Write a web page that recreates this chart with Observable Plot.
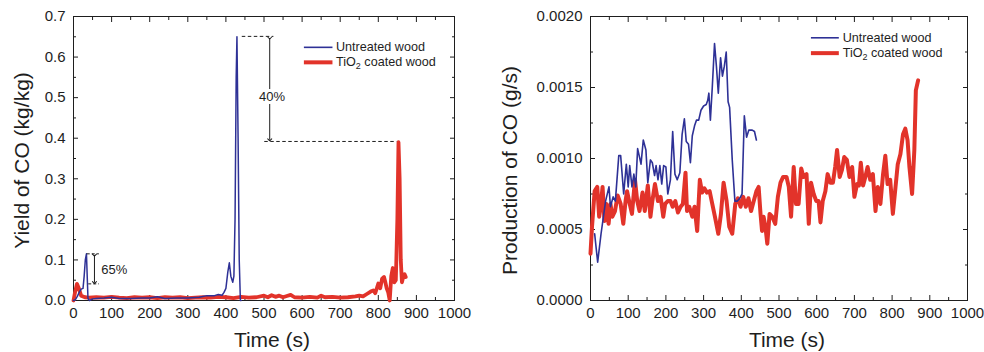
<!DOCTYPE html>
<html><head><meta charset="utf-8">
<script src="https://cdn.jsdelivr.net/npm/d3@7"></script>
<script src="https://cdn.jsdelivr.net/npm/@observablehq/plot@0.6"></script>
<style>
body{margin:0;background:#fff;}
#wrap{display:flex;width:984px;height:352px;font-family:"Liberation Sans",Arial,Helvetica,sans-serif;}
#wrap svg{overflow:visible;}
</style></head><body><div id="wrap"></div>
<script>
// ---------- data ----------
const seriesNames = ["Untreated wood", "TiO2 coated wood"];
const xTicks = [0,100,200,300,400,500,600,700,800,900,1000];
const xMinorTicks = [50,150,250,350,450,550,650,750,850,950];

// Left panel: yield of CO (kg/kg)
const yieldTicks = [0,0.1,0.2,0.3,0.4,0.5,0.6,0.7];
const yieldMinorTicks = [0.05,0.15,0.25,0.35,0.45,0.55,0.65];
const yieldTimeUntreated = [0,5,10,15,20,25,28,31,34,36,38,42,50,60,80,100,120,150,180,200,220,240,270,300,330,350,370,380,390,395,400,405,409,413,418,421,424,427,429,432,435,438,440];
const yieldUntreated = [0,0.002,0.01,0.02,0.028,0.03,0.06,0.1,0.115,0.06,0.005,0,0.004,0.005,0.006,0.008,0.005,0.005,0.006,0.006,0.009,0.005,0.006,0.006,0.008,0.012,0.012,0.015,0.013,0.02,0.03,0.07,0.093,0.06,0.045,0.06,0.2,0.55,0.65,0.4,0.1,0,0];
const yieldTimeCoated = [0,4,9,14,20,30,40,60,80,100,120,140,160,180,200,220,240,260,280,300,320,340,360,380,400,420,440,460,480,500,510,520,530,540,550,560,570,580,600,620,640,650,660,680,700,720,740,750,760,770,780,787,792,800,805,810,815,818,822,826,830,834,838,842,846,850,853,856,859,862,866,869,872];
const yieldCoated = [0,0.02,0.041,0.03,0.012,0.008,0.007,0.008,0.007,0.009,0.007,0.006,0.008,0.007,0.008,0.006,0.008,0.007,0.008,0.006,0.007,0.008,0.007,0.009,0.008,0.006,0.009,0.007,0.008,0.012,0.008,0.013,0.009,0.012,0.008,0.011,0.014,0.008,0.007,0.009,0.007,0.012,0.008,0.009,0.007,0.008,0.01,0.012,0.01,0.016,0.022,0.025,0.018,0.042,0.03,0.054,0.058,0.047,0.03,0.02,0.0,0.06,0.08,0.045,0.05,0.2,0.39,0.3,0.1,0.045,0.06,0.065,0.058];
// annotations
const bigPeak = 0.651, bigPeakCoated = 0.392, bigLabel = "40%";
const smallPeak = 0.115, smallPeakCoated = 0.041, smallLabel = "65%";

// Right panel: production of CO (g/s)
const prodTicks = [0,0.0005,0.001,0.0015,0.002];
const prodMinorTicks = [0.00025,0.00075,0.00125,0.00175];
const prodTimeUntreated = [11,19,28,40,49,53,60,66,75,80,88,95,100,104,110,115,120,125,130,134,140,147,152,159,164,170,174,179,184,189,194,200,205,212,218,224,230,237,243,249,254,260,265,270,276,281,287,293,300,307,311,314,318,323,329,334,339,345,350,355,360,365,369,376,383,389,396,402,408,414,420,429,435,440];
const prodUntreated = [4.7e-4,2.7e-4,4.7e-4,7.0e-4,8.0e-4,6.6e-4,7.3e-4,7.0e-4,10.2e-4,10.2e-4,7.5e-4,9.6e-4,8.0e-4,9.5e-4,8.0e-4,8.9e-4,8.0e-4,10.7e-4,10.1e-4,9.6e-4,11.3e-4,10.6e-4,8.3e-4,9.9e-4,9.7e-4,8.8e-4,9.5e-4,8.5e-4,9.5e-4,8.2e-4,9.5e-4,9.4e-4,7.5e-4,8.5e-4,11.9e-4,8.9e-4,8.5e-4,9.0e-4,11.7e-4,12.8e-4,11.2e-4,11.0e-4,9.7e-4,11.6e-4,12.3e-4,12.7e-4,12.7e-4,13.4e-4,13.7e-4,13.8e-4,14.1e-4,14.6e-4,12.7e-4,15.0e-4,18.1e-4,16.5e-4,14.6e-4,17.1e-4,15.8e-4,16.5e-4,17.5e-4,14.0e-4,13.6e-4,9.9e-4,7.0e-4,7.0e-4,7.2e-4,7.5e-4,13.0e-4,11.5e-4,12.0e-4,12.0e-4,11.9e-4,11.3e-4];
const prodTimeCoated = [0,4,11,18,23,27,32,37,42,48,53,58,65,72,80,87,93,97,104,110,118,124,130,138,144,152,159,164,171,179,186,193,198,205,212,218,225,232,239,245,252,256,262,270,276,283,290,296,302,309,316,323,330,339,346,353,361,368,376,384,391,398,405,412,419,426,433,440,446,451,455,459,464,469,475,482,490,497,504,511,520,526,532,539,545,552,559,565,573,579,585,592,599,605,610,616,623,629,636,643,649,654,661,667,673,680,687,694,700,707,712,717,723,729,735,742,749,756,762,769,776,782,788,795,802,808,815,822,829,835,841,846,853,859,863,869];
const prodCoated = [3.3e-4,5.2e-4,7.7e-4,8.0e-4,5.9e-4,6.6e-4,8.0e-4,5.6e-4,6.8e-4,5.4e-4,6.8e-4,5.9e-4,6.3e-4,7.4e-4,6.8e-4,5.4e-4,7.0e-4,7.7e-4,6.8e-4,6.1e-4,8.5e-4,7.0e-4,6.3e-4,7.6e-4,6.3e-4,8.1e-4,5.9e-4,7.0e-4,8.2e-4,7.0e-4,7.3e-4,5.9e-4,6.8e-4,7.0e-4,7.0e-4,6.6e-4,7.0e-4,6.2e-4,6.6e-4,6.8e-4,9.0e-4,6.3e-4,6.6e-4,5.9e-4,6.6e-4,4.9e-4,8.5e-4,7.6e-4,7.9e-4,7.6e-4,7.7e-4,6.8e-4,5.9e-4,4.7e-4,6.1e-4,8.3e-4,7.0e-4,5.2e-4,4.7e-4,6.8e-4,7.2e-4,6.6e-4,7.3e-4,6.6e-4,7.2e-4,6.3e-4,7.0e-4,7.7e-4,8.0e-4,6.1e-4,4.9e-4,5.9e-4,5.2e-4,4.0e-4,6.1e-4,5.9e-4,5.4e-4,7.3e-4,8.3e-4,8.7e-4,8.7e-4,8.0e-4,5.9e-4,9.4e-4,6.8e-4,6.8e-4,9.3e-4,8.7e-4,8.9e-4,5.4e-4,8.3e-4,7.5e-4,7.0e-4,7.0e-4,5.5e-4,7.0e-4,7.7e-4,8.9e-4,8.3e-4,8.3e-4,9.4e-4,10.6e-4,8.7e-4,9.2e-4,10.1e-4,9.9e-4,8.7e-4,9.4e-4,7.3e-4,8.2e-4,8.1e-4,9.7e-4,8.1e-4,8.7e-4,9.4e-4,8.5e-4,8.9e-4,6.3e-4,8.0e-4,6.8e-4,8.9e-4,10.2e-4,8.2e-4,8.5e-4,6.1e-4,7.7e-4,9.6e-4,10.3e-4,11.7e-4,12.1e-4,11.3e-4,9.4e-4,7.5e-4,10.6e-4,14.8e-4,15.5e-4];

// ---------- drawing ----------
const BLUE = "#2e3196", RED = "#e2332a", INK = "#1e1e1e";
const FONT = '"Liberation Sans", Arial, Helvetica, sans-serif';
const zip = (ts, vs) => ts.map((t, i) => ({t, v: vs[i]})).filter(d => d.v !== undefined);

function frameAxes(yT, yMinor, fmt) {
  return [
    Plot.frame({stroke: INK}),
    Plot.axisX(xTicks, {tickSize: 0, tickPadding: 7, label: null, fontSize: 15, fill: INK, tickFormat: d3.format("d")}),
    Plot.axisX(xTicks, {anchor: "bottom", tickSize: -5, fill: "none", label: null, stroke: INK}),
    Plot.axisX(xMinorTicks, {anchor: "bottom", tickSize: -3, fill: "none", label: null, stroke: INK}),
    Plot.axisX(xTicks, {anchor: "top", tickSize: -5, fill: "none", label: null, stroke: INK}),
    Plot.axisX(xMinorTicks, {anchor: "top", tickSize: -3, fill: "none", label: null, stroke: INK}),
    Plot.axisY(yT, {tickSize: 0, tickPadding: 8, label: null, fontSize: 15, fill: INK, tickFormat: fmt}),
    Plot.axisY(yT, {anchor: "left", tickSize: -5, fill: "none", label: null, stroke: INK}),
    Plot.axisY(yMinor, {anchor: "left", tickSize: -3, fill: "none", label: null, stroke: INK}),
    Plot.axisY(yT, {anchor: "right", tickSize: -5, fill: "none", label: null, stroke: INK}),
    Plot.axisY(yMinor, {anchor: "right", tickSize: -3, fill: "none", label: null, stroke: INK})
  ];
}

function legend(x1, x2, xt, y1, y2) {
  return [
    Plot.ruleY([y1], {x1, x2, stroke: BLUE, strokeWidth: 1.6}),
    Plot.ruleY([y2], {x1, x2, stroke: RED, strokeWidth: 4}),
    Plot.text([seriesNames[0]], {x: xt, y: y1, text: d => d, textAnchor: "start", fontSize: 12.6, fill: INK}),
    Plot.text([seriesNames[1]], {x: xt, y: y2, text: d => d, textAnchor: "start", fontSize: 12.6, fill: INK})
  ];
}

function titles(yTitle, dxY, dyY) {
  return [
    Plot.text([yTitle], {frameAnchor: "left", dx: dxY, dy: dyY, text: d => d, rotate: -90, textAnchor: "middle", lineAnchor: "middle", fontSize: 21, fill: INK}),
    Plot.text(["Time (s)"], {frameAnchor: "bottom", dx: 8, dy: 40, text: d => d, textAnchor: "middle", lineAnchor: "middle", fontSize: 21, fill: INK})
  ];
}

const left = Plot.plot({
  width: 490, height: 352,
  marginLeft: 73, marginRight: 36, marginTop: 16, marginBottom: 52,
  style: {fontFamily: FONT, background: "white", color: INK},
  x: {domain: [0, 1000]},
  y: {domain: [0, 0.7]},
  marks: [
    ...frameAxes(yieldTicks, yieldMinorTicks, d3.format(".1f")),
    Plot.line(zip(yieldTimeCoated, yieldCoated), {x: "t", y: "v", stroke: RED, strokeWidth: 3.8, strokeLinejoin: "round"}),
    Plot.line(zip(yieldTimeUntreated, yieldUntreated), {x: "t", y: "v", stroke: BLUE, strokeWidth: 1.5}),
    // 40% annotation
    Plot.ruleY([bigPeak], {x1: 443, x2: 526, stroke: INK, strokeDasharray: "3.5,2.5", strokeWidth: 1}),
    Plot.ruleY([bigPeakCoated], {x1: 502, x2: 849, stroke: INK, strokeDasharray: "3.5,2.5", strokeWidth: 1}),
    Plot.link([0], {x1: 515, x2: 515, y1: bigPeak - 0.004, y2: bigPeakCoated + 0.004, stroke: INK, markerStart: "arrow", markerEnd: "arrow"}),
    Plot.text([bigLabel], {x: 521, y: 0.503, text: d => d, fontSize: 13, fill: INK, stroke: "white", strokeWidth: 6, paintOrder: "stroke"}),
    // 65% annotation
    Plot.ruleY([smallPeak], {x1: 36, x2: 68, stroke: INK, strokeDasharray: "3,2", strokeWidth: 1}),
    Plot.ruleY([smallPeakCoated], {x1: 40, x2: 68, stroke: INK, strokeDasharray: "3,2", strokeWidth: 1}),
    Plot.link([0], {x1: 55, x2: 55, y1: smallPeak - 0.003, y2: smallPeakCoated + 0.003, stroke: INK, markerStart: "arrow", markerEnd: "arrow"}),
    Plot.text([smallLabel], {x: 73, y: 0.076, text: d => d, textAnchor: "start", fontSize: 13, fill: INK}),
    ...legend(606, 681, 689, 0.624, 0.587),
    ...titles("Yield of CO (kg/kg)", -51, 2)
  ]
});

const right = Plot.plot({
  width: 494, height: 352,
  marginLeft: 100, marginRight: 17, marginTop: 16, marginBottom: 52,
  style: {fontFamily: FONT, background: "white", color: INK},
  x: {domain: [0, 1000]},
  y: {domain: [0, 0.002]},
  marks: [
    ...frameAxes(prodTicks, prodMinorTicks, d3.format(".4f")),
    Plot.line(zip(prodTimeCoated, prodCoated), {x: "t", y: "v", stroke: RED, strokeWidth: 4, strokeLinejoin: "round"}),
    Plot.line(zip(prodTimeUntreated, prodUntreated), {x: "t", y: "v", stroke: BLUE, strokeWidth: 1.6}),
    ...legend(586, 660, 669, 0.00185, 0.001742),
    ...titles("Production of CO (g/s)", -80, 12)
  ]
});

const wrap = document.getElementById("wrap");
wrap.append(left, right);

// subscript the 2 in TiO2
wrap.querySelectorAll("text").forEach(el => {
  if (el.textContent === seriesNames[1]) {
    el.textContent = "";
    const ns = "http://www.w3.org/2000/svg";
    const a = document.createElementNS(ns, "tspan"); a.textContent = "TiO";
    const b = document.createElementNS(ns, "tspan"); b.textContent = "2"; b.setAttribute("dy", "3"); b.setAttribute("font-size", "9");
    const c = document.createElementNS(ns, "tspan"); c.textContent = " coated wood"; c.setAttribute("dy", "-3");
    el.append(a, b, c);
  }
});
</script></body></html>
